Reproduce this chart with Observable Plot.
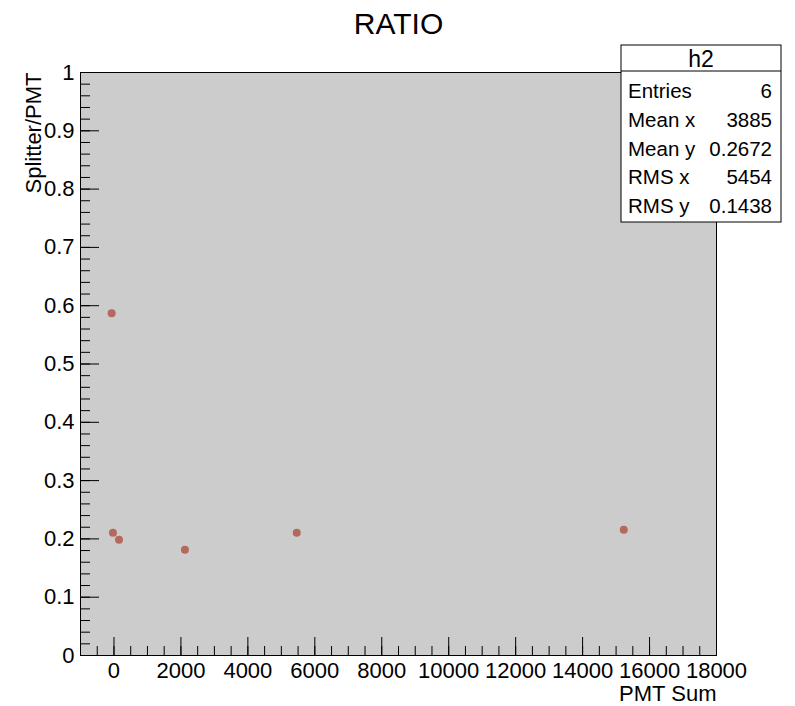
<!DOCTYPE html>
<html>
<head>
<meta charset="utf-8">
<script src="https://cdn.jsdelivr.net/npm/d3@7"></script>
<script src="https://cdn.jsdelivr.net/npm/@observablehq/plot@0.6"></script>
<style>
  html, body { margin: 0; padding: 0; background: #fff; }
  svg { font-family: "Liberation Sans", Arial, sans-serif; }
</style>
</head>
<body>
<div id="chart"></div>
<script>
// ---- data ----
const pmtSum   = [-70, -30, 150, 2120, 5460, 15230];
const ratio    = [0.587, 0.2107, 0.1987, 0.1815, 0.2107, 0.2159];
const xMajor   = [0, 2000, 4000, 6000, 8000, 10000, 12000, 14000, 16000, 18000];
const xMinor   = d3.range(-500, 18001, 500);
const yMajor   = [0, 0.1, 0.2, 0.3, 0.4, 0.5, 0.6, 0.7, 0.8, 0.9, 1];
const yMinor   = d3.range(0, 51).map(i => i / 50);
const yLabels  = ["0", "0.1", "0.2", "0.3", "0.4", "0.5", "0.6", "0.7", "0.8", "0.9", "1"];
const statName = ["Entries", "Mean x", "Mean y", "RMS x", "RMS y"];
const statVal  = ["6", "3885", "0.2672", "5454", "0.1438"];
const title    = "RATIO";
const histName = "h2";

const W = 795, H = 706;
const mL = 80, mR = 79, mT = 72, mB = 51;
const fW = W - mL - mR, fH = H - mT - mB;

const pts = pmtSum.map((x, i) => ({x, y: ratio[i]}));

const plot = Plot.plot({
  width: W, height: H,
  marginLeft: mL, marginRight: mR, marginTop: mT, marginBottom: mB,
  style: {fontFamily: "Liberation Sans, Arial, sans-serif", background: "white"},
  x: {domain: [-1000, 18000], axis: null},
  y: {domain: [0, 1], axis: null},
  marks: [
    Plot.frame({fill: "#cccccc"}),
    Plot.tickX(xMinor, {x: d => d, insetTop: fH - 9, stroke: "black"}),
    Plot.tickX(xMajor, {x: d => d, insetTop: fH - 18, stroke: "black"}),
    Plot.tickY(yMinor, {y: d => d, insetRight: fW - 10, stroke: "black"}),
    Plot.tickY(yMajor, {y: d => d, insetRight: fW - 19, stroke: "black"}),
    Plot.frame({stroke: "black"}),
    Plot.text(xMajor, {x: d => d, frameAnchor: "bottom", lineAnchor: "top", dy: 7,
      text: d => String(d), fontSize: 22, fill: "black"}),
    Plot.text(yMajor, {y: d => d, frameAnchor: "left", textAnchor: "end", lineAnchor: "middle", dx: -6,
      text: (d, i) => yLabels[i], fontSize: 22, fill: "black"}),
    Plot.dot(pts, {x: "x", y: "y", r: 4, fill: "#b5685c", stroke: null}),
    Plot.text(["PMT Sum"], {frameAnchor: "bottom-right", textAnchor: "end", lineAnchor: "top", dy: 30,
      fontSize: 22, fill: "black"}),
    Plot.text(["Splitter/PMT"], {frameAnchor: "top-left", textAnchor: "end", lineAnchor: "top", rotate: -90,
      dx: -55, fontSize: 22, fill: "black"}),
    Plot.text([title], {frameAnchor: "top", lineAnchor: "top", dy: 12 - mT, fontSize: 30, fill: "black"})
  ]
});

document.getElementById("chart").appendChild(plot);

// ---- statistics box ----
const svg = d3.select(plot);
const bx = 621, by = 45, bw = 160, bh = 177, hh = 26;
const g = svg.append("g").attr("font-family", "Liberation Sans, Arial, sans-serif")
  .attr("fill", "black");
g.append("rect").attr("x", bx).attr("y", by).attr("width", bw).attr("height", bh)
  .attr("fill", "white").attr("stroke", "black").attr("stroke-width", 1);
g.append("line").attr("x1", bx).attr("x2", bx + bw).attr("y1", by + hh).attr("y2", by + hh)
  .attr("stroke", "black");
g.append("text").attr("x", bx + bw / 2).attr("y", by + 22).attr("text-anchor", "middle")
  .attr("font-size", 23).text(histName);
const rowH = 28.8;
statName.forEach((n, i) => {
  const yb = by + 53 + rowH * i;
  g.append("text").attr("x", bx + 7).attr("y", yb).attr("text-anchor", "start")
    .attr("font-size", 20.5).text(n);
  g.append("text").attr("x", bx + bw - 9).attr("y", yb).attr("text-anchor", "end")
    .attr("font-size", 20.5).text(statVal[i]);
});
</script>
</body>
</html>
